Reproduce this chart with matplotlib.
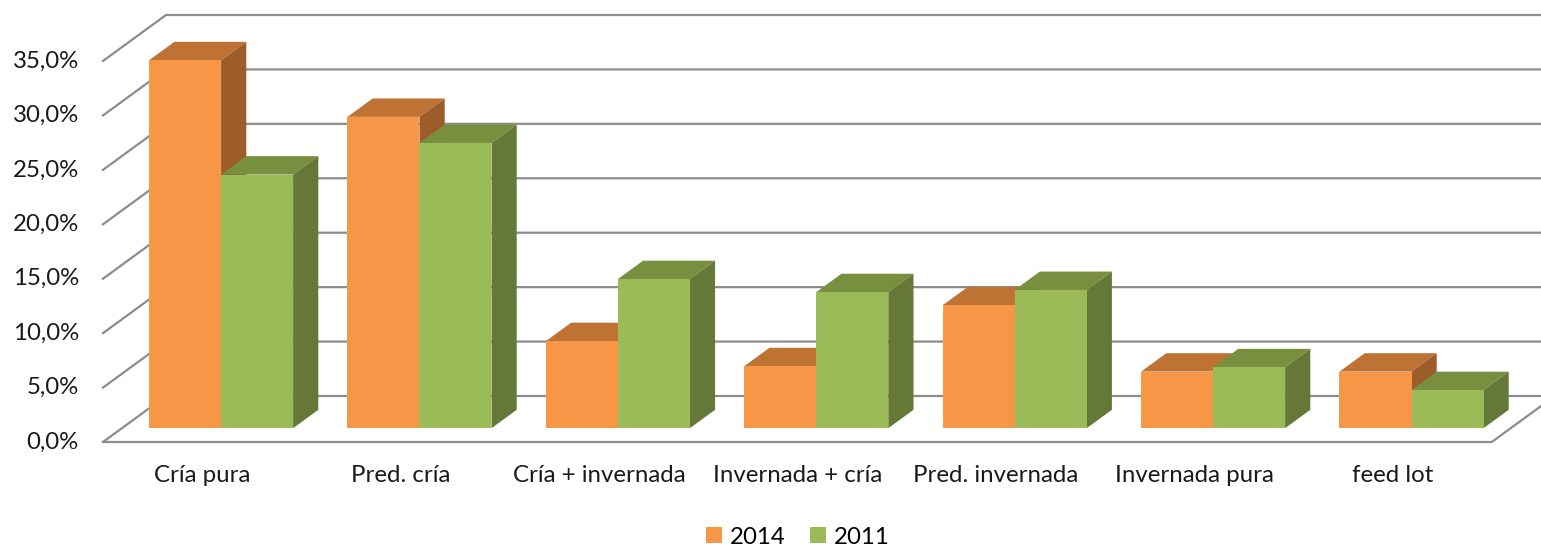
import matplotlib
matplotlib.use("Agg")
import matplotlib.pyplot as plt
from matplotlib.patches import Polygon, Patch

categories = ["Cría pura", "Pred. cría", "Cría + invernada", "Invernada + cría",
              "Pred. invernada", "Invernada pura", "feed lot"]
series_names = ["2014", "2011"]
values_2014 = [33.8, 28.6, 8.0, 5.7, 11.3, 5.2, 5.2]
values_2011 = [23.3, 26.2, 13.7, 12.5, 12.7, 5.6, 3.5]
yticks = [0, 5, 10, 15, 20, 25, 30, 35]

front_cols = ["#F79646", "#9BBB59"]
top_cols = ["#BE7233", "#778F3E"]
side_cols = ["#9C5D2A", "#667837"]
grid_col = "#8C8C8C"

plt.rcParams['font.family'] = ['Lato', 'DejaVu Sans']

W, H = 1541, 547
fig = plt.figure(figsize=(W / 100, H / 100), dpi=100)
ax = fig.add_axes([0, 0, 1, 1])
ax.set_axis_off()

# pixel geometry of the 3D frame
x0_px, y0_px = 103, 442          # front-left floor corner
cat_px = 198.4                    # px per category
pct_px = 10.886                   # px per percent
depth_dx, depth_dy = 63 / cat_px, 46 / pct_px   # full-depth offset in data units

ax.set_xlim(-x0_px / cat_px, (W - x0_px) / cat_px)
ax.set_ylim(-(H - y0_px) / pct_px, y0_px / pct_px)

n = len(categories)

def P(x, v, d):
    return (x + d * depth_dx, v + d * depth_dy)

lw = 1.6
# back wall gridlines and left wall diagonals
for t in yticks:
    a = P(0, t, 0); b = P(0, t, 1); c = P(n, t, 1)
    ax.plot([a[0], b[0], c[0]], [a[1], b[1], c[1]], color=grid_col, lw=lw,
            zorder=1, solid_joinstyle='miter', clip_on=False)
# floor front edge and right edge
a = P(0, 0, 0); b = P(n, 0, 0); c = P(n, 0, 1)
ax.plot([a[0], b[0], c[0]], [a[1], b[1], c[1]], color=grid_col, lw=lw, zorder=1)

# bars
bw = 72 / cat_px
d0, d1 = 0.3, 0.7
z = 2
for g in range(n):
    for s, vals in enumerate([values_2014, values_2011]):
        v = vals[g]
        xl = g + 0.5 - bw + s * bw
        xr = xl + bw
        front = [P(xl, 0, d0), P(xr, 0, d0), P(xr, v, d0), P(xl, v, d0)]
        top = [P(xl, v, d0), P(xr, v, d0), P(xr, v, d1), P(xl, v, d1)]
        side = [P(xr, 0, d0), P(xr, 0, d1), P(xr, v, d1), P(xr, v, d0)]
        ax.add_patch(Polygon(top, closed=True, facecolor=top_cols[s], edgecolor='none', zorder=z))
        ax.add_patch(Polygon(side, closed=True, facecolor=side_cols[s], edgecolor='none', zorder=z))
        ax.add_patch(Polygon(front, closed=True, facecolor=front_cols[s], edgecolor='none', zorder=z + 0.1))
        z += 1

fs = 17.3
# y tick labels
for t in yticks:
    xx, yy = P(0, t, 0)
    ax.text(xx - 24 / cat_px, yy, f"{t:.1f}".replace(".", ",") + "%", ha='right', va='center',
            fontsize=fs, color='#1a1a1a')

# category labels
for g, c in enumerate(categories):
    ax.text(g + 0.5, -34 / pct_px, c, ha='center', va='center', fontsize=fs, color='#1a1a1a')

handles = [Patch(facecolor=front_cols[i], edgecolor='none', label=series_names[i]) for i in range(2)]
fig.legend(handles=handles, loc='center', bbox_to_anchor=(798 / W, 1 - 537 / H), ncol=2,
           frameon=False, fontsize=fs, handlelength=0.65, handleheight=0.65,
           handletextpad=0.35, columnspacing=1.0)

fig.savefig("out.png", dpi=100)
